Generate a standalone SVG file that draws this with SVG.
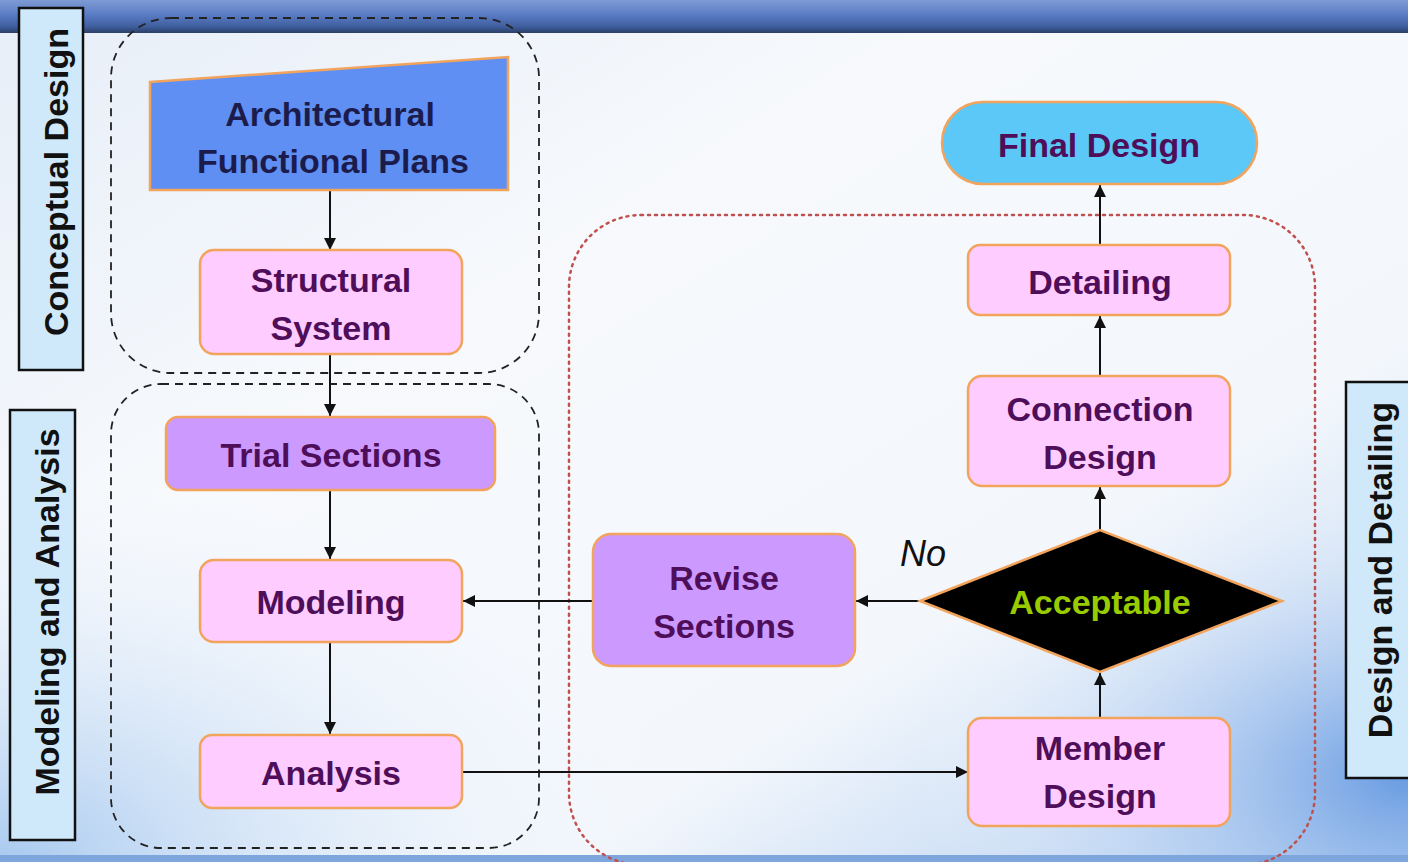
<svg xmlns="http://www.w3.org/2000/svg" width="1408" height="862" viewBox="0 0 1408 862">
<defs>
<linearGradient id="bg" x1="0" y1="0" x2="1" y2="1">
<stop offset="0" stop-color="#e6eef8"/>
<stop offset="0.35" stop-color="#f7f9fc"/>
<stop offset="0.7" stop-color="#f3f7fc"/>
<stop offset="1" stop-color="#a9c8ef"/>
</linearGradient>
<radialGradient id="lb" cx="0" cy="1" r="0.5">
<stop offset="0" stop-color="#9fc4ee" stop-opacity="0.9"/>
<stop offset="1" stop-color="#ffffff" stop-opacity="0"/>
</radialGradient>
<radialGradient id="rb" cx="1" cy="0.9" r="0.35">
<stop offset="0" stop-color="#5f95e0" stop-opacity="0.9"/>
<stop offset="1" stop-color="#ffffff" stop-opacity="0"/>
</radialGradient>
<linearGradient id="top" x1="0" y1="0" x2="0" y2="1">
<stop offset="0" stop-color="#7e9bd4"/>
<stop offset="0.45" stop-color="#5a7cc4"/>
<stop offset="0.8" stop-color="#3f5f9f"/>
<stop offset="1" stop-color="#2c3f66"/>
</linearGradient>
<marker id="ah" viewBox="0 0 10 10" refX="10" refY="5" markerWidth="12" markerHeight="12" markerUnits="userSpaceOnUse" orient="auto">
<path d="M0,0 L10,5 L0,10 Z" fill="#111"/>
</marker>
<style>
.lbl{fill:#cfe9fb;stroke:#111;stroke-width:2.5}
.lbt{font-family:"Liberation Sans",Arial,sans-serif;font-weight:bold;font-size:34px;fill:#111;text-anchor:middle;dominant-baseline:central}
.pink{fill:#ffccff;stroke:#f2a35c;stroke-width:2.5}
.violet{fill:#cc99ff;stroke:#f2a35c;stroke-width:2.5}
.t{font-family:"Liberation Sans",Arial,sans-serif;font-weight:bold;font-size:34px;fill:#4e0e5a;text-anchor:middle;dominant-baseline:central}
.c{stroke:#111;stroke-width:2;fill:none;marker-end:url(#ah)}
</style>
</defs>
<rect width="1408" height="862" fill="url(#bg)"/>
<rect width="1408" height="862" fill="url(#lb)"/>
<rect width="1408" height="862" fill="url(#rb)"/>
<rect x="0" y="0" width="1408" height="33" fill="url(#top)"/>
<rect x="0" y="855" width="1408" height="7" fill="#7fa6dc"/>

<g id="groups">
<rect x="111" y="18" width="428" height="355" rx="60" fill="none" stroke="#222" stroke-width="1.8" stroke-dasharray="8,6"/>
<rect x="111" y="384" width="428" height="464" rx="50" fill="none" stroke="#222" stroke-width="1.8" stroke-dasharray="8,6"/>
<rect x="569" y="215" width="746" height="650" rx="72" fill="none" stroke="#c0504d" stroke-width="2.5" stroke-dasharray="2,5" stroke-linecap="round"/>
</g>

<g id="label-conceptual">
<rect class="lbl" x="19" y="8" width="64" height="362"/>
<text class="lbt" transform="translate(56,182) rotate(-90)">Conceptual Design</text>
</g>
<g id="label-modeling">
<rect class="lbl" x="10" y="410" width="65" height="430"/>
<text class="lbt" transform="translate(47,612) rotate(-90)">Modeling and Analysis</text>
</g>
<g id="label-design">
<rect class="lbl" x="1346" y="382" width="66" height="396"/>
<text class="lbt" transform="translate(1380,570) rotate(-90)">Design and Detailing</text>
</g>

<g id="connectors">
<line class="c" x1="330" y1="190" x2="330" y2="250"/>
<line class="c" x1="330" y1="354" x2="330" y2="416"/>
<line class="c" x1="330" y1="490" x2="330" y2="559"/>
<line class="c" x1="330" y1="642" x2="330" y2="734"/>
<line class="c" x1="462" y1="772" x2="968" y2="772"/>
<line class="c" x1="1100" y1="718" x2="1100" y2="673"/>
<line class="c" x1="1100" y1="530" x2="1100" y2="487"/>
<line class="c" x1="1100" y1="376" x2="1100" y2="316"/>
<line class="c" x1="1100" y1="245" x2="1100" y2="185"/>
<line class="c" x1="920" y1="601" x2="856" y2="601"/>
<line class="c" x1="593" y1="601" x2="463" y2="601"/>
</g>

<g id="node-architectural">
<path d="M150,82 L508,57 L508,190 L150,190 Z" fill="#5f8ff2" stroke="#f2a35c" stroke-width="2.5"/>
<text class="t" fill="#1c1c4c" style="fill:#1c1c4c" x="330" y="114">Architectural</text>
<text class="t" style="fill:#1c1c4c" x="333" y="161">Functional Plans</text>
</g>
<g id="node-structural">
<rect class="pink" x="200" y="250" width="262" height="104" rx="14"/>
<text class="t" x="331" y="280">Structural</text>
<text class="t" x="331" y="328">System</text>
</g>
<g id="node-trial">
<rect class="violet" x="166" y="417" width="329" height="73" rx="12"/>
<text class="t" x="331" y="455">Trial Sections</text>
</g>
<g id="node-modeling">
<rect class="pink" x="200" y="560" width="262" height="82" rx="14"/>
<text class="t" x="331" y="602">Modeling</text>
</g>
<g id="node-analysis">
<rect class="pink" x="200" y="735" width="262" height="73" rx="12"/>
<text class="t" x="331" y="773">Analysis</text>
</g>
<g id="node-revise">
<rect class="violet" x="593" y="534" width="262" height="132" rx="18"/>
<text class="t" x="724" y="578">Revise</text>
<text class="t" x="724" y="626">Sections</text>
</g>
<g id="node-acceptable">
<path d="M920,601 L1100,530 L1282,601 L1100,672 Z" fill="#000" stroke="#f2a35c" stroke-width="2.5"/>
<text class="t" style="fill:#99cc00" x="1100" y="602">Acceptable</text>
<text x="923" y="553" font-family="'Liberation Sans',Arial,sans-serif" font-style="italic" font-size="36" fill="#111" text-anchor="middle" dominant-baseline="central">No</text>
</g>
<g id="node-member">
<rect class="pink" x="968" y="718" width="262" height="108" rx="14"/>
<text class="t" x="1100" y="748">Member</text>
<text class="t" x="1100" y="796">Design</text>
</g>
<g id="node-connection">
<rect class="pink" x="968" y="376" width="262" height="110" rx="14"/>
<text class="t" x="1100" y="409">Connection</text>
<text class="t" x="1100" y="457">Design</text>
</g>
<g id="node-detailing">
<rect class="pink" x="968" y="245" width="262" height="70" rx="12"/>
<text class="t" x="1100" y="282">Detailing</text>
</g>
<g id="node-final">
<rect x="942" y="102" width="315" height="82" rx="41" fill="#5bc8f8" stroke="#f2a35c" stroke-width="2.5"/>
<text class="t" x="1099" y="145">Final Design</text>
</g>
</svg>
